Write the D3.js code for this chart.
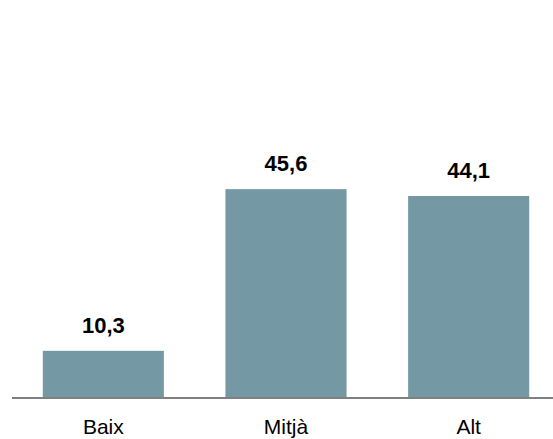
<!DOCTYPE html>
<html><head><meta charset="utf-8">
<script src="https://cdn.jsdelivr.net/npm/d3@7"></script>
<style>body{margin:0;background:#fff}svg{display:block}</style>
</head><body>
<svg id="c" width="553" height="439"></svg>
<script>
const categories = ["Baix", "Mitjà", "Alt"];
const values = [10.3, 45.6, 44.1];
const labels = ["10,3", "45,6", "44,1"];

const svg = d3.select("#c");
const x = d3.scaleBand().domain(categories).range([12, 560]).paddingInner(0.337).paddingOuter(0.1685);
const y = d3.scaleLinear().domain([0, 50]).range([398, 169]);

svg.selectAll("rect.bar").data(values).join("rect")
  .attr("class", "bar")
  .attr("x", (d, i) => x(categories[i]))
  .attr("width", x.bandwidth())
  .attr("y", d => y(d))
  .attr("height", d => y(0) - y(d))
  .attr("fill", "#7599a4");

svg.append("line").attr("x1", 12).attr("x2", 553).attr("y1", y(0)).attr("y2", y(0))
  .attr("stroke", "#808080").attr("stroke-width", 2);

svg.selectAll("text.val").data(values).join("text")
  .attr("class", "val")
  .attr("x", (d, i) => x(categories[i]) + x.bandwidth() / 2)
  .attr("y", d => y(d) - 18)
  .attr("text-anchor", "middle")
  .attr("font-family", "Liberation Sans, Arial, sans-serif")
  .attr("font-weight", "bold").attr("font-size", 22).attr("fill", "#000")
  .text((d, i) => labels[i]);

svg.selectAll("text.cat").data(categories).join("text")
  .attr("class", "cat")
  .attr("x", d => x(d) + x.bandwidth() / 2)
  .attr("y", 434)
  .attr("text-anchor", "middle")
  .attr("font-family", "Liberation Sans, Arial, sans-serif")
  .attr("font-size", 21).attr("fill", "#000")
  .text(d => d);
</script>
</body></html>
